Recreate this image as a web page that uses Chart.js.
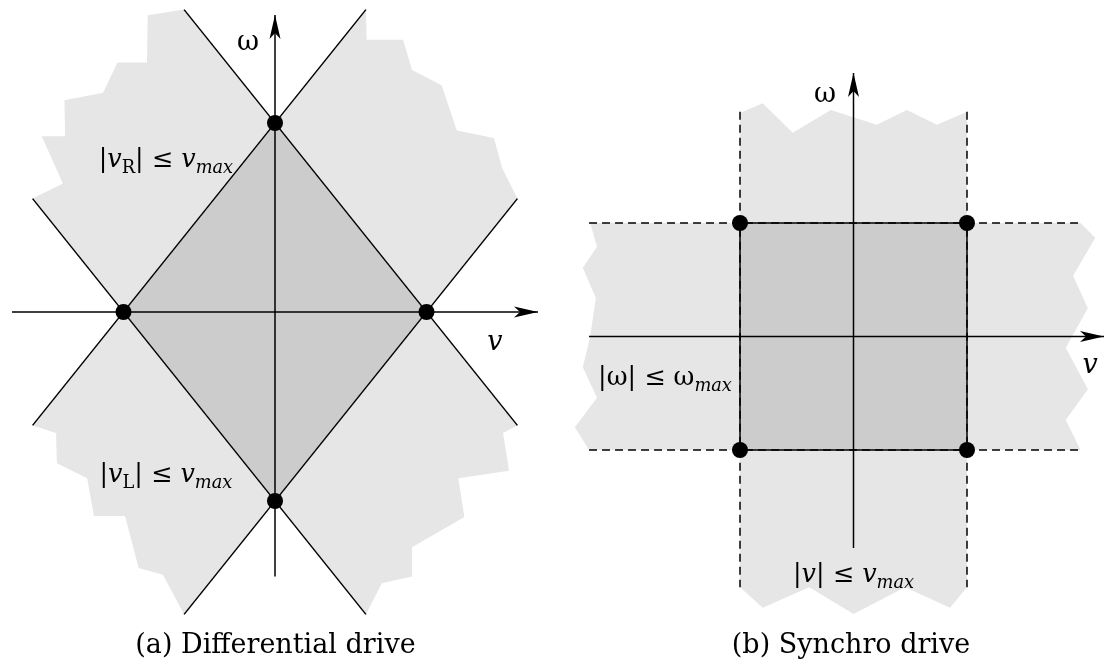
<!DOCTYPE html>
<html>
<head>
<meta charset="utf-8">
<script src="https://cdn.jsdelivr.net/npm/chart.js@4/dist/chart.umd.min.js"></script>
<style>
  html, body { margin: 0; padding: 0; background: #fff; }
  #wrap { position: relative; width: 1105px; height: 665px; overflow: hidden; }
  canvas { position: absolute; top: 0; }
  #cA { left: 0; }
  #cB { left: 552px; }
</style>
</head>
<body>
<div id="wrap">
  <canvas id="cA" width="552" height="665"></canvas>
  <canvas id="cB" width="553" height="665"></canvas>
</div>
<script>
// ---------- (a) Differential drive — v on x, ω on y, in units of v_max ----------
const diffDiamond = [[-1, 0], [0, 1], [1, 0], [0, -1]];
const diffVertices = [[-1, 0], [0, 1], [1, 0], [0, -1]];
// wheel-speed limit lines |vR| = vmax, |vL| = vmax, drawn past the diamond
const diffLines = [
  [[-1.6, -0.6], [0.6, 1.6]],
  [[-0.6, 1.6], [1.6, -0.6]],
  [[-0.6, -1.6], [1.6, 0.6]],
  [[-1.6, 0.6], [0.6, -1.6]]
];
// ragged outer ends of the two half-bands
const diffEdgeTL = [[-0.6, 1.6], [-0.84, 1.57], [-0.845, 1.32], [-1.04, 1.32], [-1.135, 1.16],
                    [-1.39, 1.12], [-1.385, 0.93], [-1.54, 0.93], [-1.4, 0.68], [-1.6, 0.6]];
const diffEdgeTR = [[0.6, 1.6], [0.605, 1.44], [0.845, 1.44], [0.905, 1.28], [1.1, 1.2],
                    [1.2, 0.96], [1.445, 0.92], [1.5, 0.76], [1.6, 0.6]];
const diffEdgeBL = [[-1.6, -0.6], [-1.445, -0.64], [-1.44, -0.8], [-1.24, -0.88], [-1.195, -1.08],
                    [-0.99, -1.08], [-0.9, -1.355], [-0.74, -1.39], [-0.6, -1.6]];
const diffEdgeBR = [[1.6, -0.6], [1.505, -0.64], [1.545, -0.84], [1.21, -0.88], [1.25, -1.085],
                    [0.905, -1.245], [0.905, -1.4], [0.705, -1.435], [0.6, -1.6]];
const diffAxisV = [[-1.736, 0], [1.736, 0]];
const diffAxisW = [[0, -1.4], [0, 1.571]];

// ---------- (b) Synchro drive — v and ω each in units of their max ----------
const syncSquare = [[-1, -1], [-1, 1], [1, 1], [1, -1]];
const syncVertices = [[-1, 1], [1, 1], [-1, -1], [1, -1]];
const syncEdgeTop = [[-1, 1.97], [-0.8, 2.055], [-0.535, 1.795], [-0.2, 1.995], [0.205, 1.865],
                     [0.47, 1.995], [0.735, 1.865], [1, 1.98]];
const syncEdgeBottom = [[1, -2.21], [0.85, -2.39], [0.455, -2.21], [0, -2.445],
                        [-0.39, -2.21], [-0.8, -2.39], [-1, -2.21]];
const syncEdgeLeft = [[-2.32, 1], [-2.26, 0.79], [-2.385, 0.605], [-2.27, 0.34], [-2.32, 0],
                      [-2.385, -0.27], [-2.26, -0.54], [-2.455, -0.8], [-2.33, -1]];
const syncEdgeRight = [[2.0, -1], [1.87, -0.735], [2.065, -0.465], [1.87, -0.1], [2.065, 0.25],
                       [1.935, 0.535], [2.13, 0.87], [2.0, 1]];
const syncDashed = [
  [[-1, 1.98], [-1, -2.21]],
  [[1, 1.98], [1, -2.21]],
  [[-2.33, 1], [2.0, 1]],
  [[-2.33, -1], [2.0, -1]]
];
const syncAxisV = [[-2.33, 0], [2.207, 0]];
const syncAxisW = [[0, -1.863], [0, 2.322]];

// ---------- labels: [text, style] runs; r = roman, i = italic, sr / si = subscripts ----------
const diffLabels = [
  { at: [-0.178, 1.386], size: 27, parts: [['ω', 'r']] },
  { at: [1.452, -0.201], size: 27, parts: [['v', 'i']] },
  { at: [-0.72, 0.767], size: 25.5, parts: [['|', 'r'], ['v', 'i'], ['R', 'sr'], ['|', 'r'], [' ≤ ', 'r'], ['v', 'i'], ['max', 'si']] },
  { at: [-0.72, -0.899], size: 25.5, parts: [['|', 'r'], ['v', 'i'], ['L', 'sr'], ['|', 'r'], [' ≤ ', 'r'], ['v', 'i'], ['max', 'si']] },
  { at: [0.003, -1.804], size: 27, parts: [['(a) Differential drive', 'r']] }
];
const syncLabels = [
  { at: [-0.251, 2.066], size: 27, parts: [['ω', 'r']] },
  { at: [2.084, -0.322], size: 27, parts: [['v', 'i']] },
  { at: [-1.661, -0.427], size: 25.5, parts: [['|', 'r'], ['ω', 'r'], ['|', 'r'], [' ≤ ', 'r'], ['ω', 'r'], ['max', 'si']] },
  { at: [0, -2.163], size: 25.5, parts: [['|', 'r'], ['v', 'i'], ['|', 'r'], [' ≤ ', 'r'], ['v', 'i'], ['max', 'si']] },
  { at: [-0.022, -2.789], size: 27, parts: [['(b) Synchro drive', 'r']] }
];

// ---------- styling ----------
const LIGHT = '#e6e6e6';
const DARK = '#cccccc';
const INK = '#000000';
const FONT = "'DejaVu Serif', 'Liberation Serif', serif";

const toXY = pts => pts.map(([x, y]) => ({ x, y }));

function polygon(pts, color, order) {
  return {
    data: toXY(pts), showLine: true, fill: 'shape',
    backgroundColor: color, borderColor: 'rgba(0,0,0,0)', borderWidth: 0,
    pointRadius: 0, order
  };
}
function stroke(pts, order, extra) {
  return Object.assign({
    data: toXY(pts), showLine: true, fill: false,
    borderColor: INK, borderWidth: 1.5, pointRadius: 0, order
  }, extra || {});
}
function dots(pts, order) {
  return {
    data: toXY(pts), showLine: false,
    pointRadius: 8, pointBackgroundColor: INK, pointBorderWidth: 0, order
  };
}

// stealth arrowheads at the end of axis datasets
const arrowPlugin = {
  id: 'axisArrows',
  afterDatasetsDraw(chart) {
    const ctx = chart.ctx;
    chart.data.datasets.forEach((ds, i) => {
      if (!ds.arrowHead) return;
      const pts = chart.getDatasetMeta(i).data;
      const tip = pts[pts.length - 1], prev = pts[pts.length - 2];
      const a = Math.atan2(tip.y - prev.y, tip.x - prev.x);
      const L = 24, W = 5.5, IN = 6;
      ctx.save();
      ctx.translate(tip.x, tip.y);
      ctx.rotate(a);
      ctx.beginPath();
      ctx.moveTo(0, 0);
      ctx.lineTo(-L, -W);
      ctx.lineTo(-L + IN, 0);
      ctx.lineTo(-L, W);
      ctx.closePath();
      ctx.fillStyle = INK;
      ctx.fill();
      ctx.restore();
    });
  }
};

function fontFor(style, size) {
  const sub = style[0] === 's';
  const italic = style.endsWith('i');
  const s = sub ? size * 0.7 : size;
  return { font: (italic ? 'italic ' : '') + s.toFixed(1) + 'px ' + FONT, dy: sub ? size * 0.22 : 0 };
}

function labelPlugin(items) {
  return {
    id: 'richLabels',
    afterDraw(chart) {
      const ctx = chart.ctx;
      const xs = chart.scales.x, ys = chart.scales.y;
      ctx.save();
      ctx.fillStyle = INK;
      ctx.textBaseline = 'alphabetic';
      ctx.textAlign = 'left';
      for (const item of items) {
        const cx = xs.getPixelForValue(item.at[0]);
        const by = ys.getPixelForValue(item.at[1]);
        let total = 0;
        const runs = item.parts.map(([t, st]) => {
          const f = fontFor(st, item.size);
          ctx.font = f.font;
          const w = ctx.measureText(t).width;
          total += w;
          return { t, f, w };
        });
        let x = cx - total / 2;
        for (const r of runs) {
          ctx.font = r.f.font;
          ctx.fillText(r.t, x, by + r.f.dy);
          x += r.w;
        }
      }
      ctx.restore();
    }
  };
}

function makeChart(id, datasets, xr, yr, labels) {
  return new Chart(document.getElementById(id), {
    type: 'scatter',
    data: { datasets },
    options: {
      responsive: false,
      animation: false,
      devicePixelRatio: 1,
      events: [],
      layout: { padding: 0, autoPadding: false },
      elements: { line: { tension: 0 } },
      scales: {
        x: { type: 'linear', min: xr[0], max: xr[1], bounds: 'data', display: false },
        y: { type: 'linear', min: yr[0], max: yr[1], bounds: 'data', display: false }
      },
      plugins: { legend: { display: false }, tooltip: { enabled: false }, filler: { propagate: false } }
    },
    plugins: [arrowPlugin, labelPlugin(labels)]
  });
}

// ---------- chart (a) ----------
const diffSets = [
  polygon([[0, 1], ...diffEdgeTL, [-1, 0]], LIGHT, 10),
  polygon([[0, 1], ...diffEdgeTR, [1, 0]], LIGHT, 10),
  polygon([[-1, 0], ...diffEdgeBL, [0, -1]], LIGHT, 10),
  polygon([[1, 0], ...diffEdgeBR, [0, -1]], LIGHT, 10),
  polygon(diffDiamond, DARK, 9),
  ...diffLines.map(l => stroke(l, 5)),
  stroke(diffAxisV, 4, { arrowHead: true }),
  stroke(diffAxisW, 4, { arrowHead: true }),
  dots(diffVertices, 1)
];
makeChart('cA', diffSets, [-275 / 151.5, 277 / 151.5], [-353 / 189, 312 / 189], diffLabels);

// ---------- chart (b) ----------
const syncSets = [
  polygon([...syncEdgeTop, ...syncEdgeBottom], LIGHT, 10),
  polygon([...syncEdgeLeft, ...syncEdgeRight], LIGHT, 10),
  polygon(syncSquare, DARK, 9),
  ...syncDashed.map(l => stroke(l, 6, { borderDash: [8, 5], borderWidth: 1.5 })),
  stroke([...syncSquare, syncSquare[0]], 5),
  stroke(syncAxisV, 4, { arrowHead: true }),
  stroke(syncAxisW, 4, { arrowHead: true }),
  dots(syncVertices, 1)
];
makeChart('cB', syncSets, [-301.5 / 113.5, 251.5 / 113.5], [-328.5 / 113.5, 336.5 / 113.5], syncLabels);
</script>
</body>
</html>
